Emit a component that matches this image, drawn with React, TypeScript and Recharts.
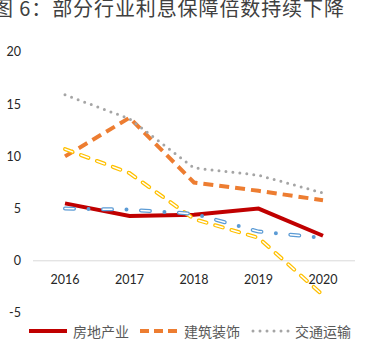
import { LineChart, Line, XAxis, YAxis, ReferenceLine } from "recharts";

const years = ["2016", "2017", "2018", "2019", "2020"];
const realEstate = [5.5, 4.3, 4.4, 5.0, 2.4];
const construction = [10.0, 13.7, 7.5, 6.7, 5.8];
const transport = [15.9, 13.6, 8.9, 8.2, 6.5];
const leisure = [10.7, 8.4, 4.0, 2.2, -3.3];
const commerce = [5.0, 4.9, 4.5, 2.8, 2.2];
const yTicks = [-5, 0, 5, 10, 15, 20];

const seriesNames = ["房地产业", "建筑装饰", "交通运输", "休闲服务", "商业贸易"];

const data = years.map((year, i) => ({
    year,
    realEstate: realEstate[i],
    construction: construction[i],
    transport: transport[i],
    leisure: leisure[i],
    commerce: commerce[i],
}));

const FONT = "Lato, 'Noto Sans', sans-serif";
const CJK = "'Noto Sans CJK SC', sans-serif";

// legend swatches, drawn like the chart strokes
function Swatch({ kind }: { kind: number }) {
    return (
        <svg width={40} height={10} style={{ display: "block" }}>
            {kind === 0 && <line x1={1} y1={5} x2={39} y2={5} stroke="#C00000" strokeWidth={4} />}
            {kind === 1 && (
                <line x1={1} y1={5} x2={39} y2={5} stroke="#ED7D31" strokeWidth={4} strokeDasharray="9 5" />
            )}
            {kind === 2 && (
                <line x1={3} y1={5} x2={39} y2={5} stroke="#A5A5A5" strokeWidth={3} strokeDasharray="0 7" strokeLinecap="round" />
            )}
            {kind === 3 && (
                <g>
                    <line x1={3} y1={5} x2={39} y2={5} stroke="#FFC000" strokeWidth={4} strokeDasharray="8 9" strokeLinecap="round" />
                    <line x1={3} y1={5} x2={39} y2={5} stroke="#fff" strokeWidth={1.5} strokeDasharray="8 9" strokeLinecap="round" />
                </g>
            )}
            {kind === 4 && (
                <g>
                    <line x1={3} y1={5} x2={39} y2={5} stroke="#5B9BD5" strokeWidth={4} strokeDasharray="9 11 0 11" strokeLinecap="round" />
                    <line x1={3} y1={5} x2={39} y2={5} stroke="#fff" strokeWidth={1.5} strokeDasharray="9 22" strokeLinecap="round" />
                </g>
            )}
        </svg>
    );
}

// category labels sit just under the zero line, not at the plot bottom
const XTick = (props: any) => {
    const { x, y, payload } = props;
    return (
        <text x={x} y={y - 37} textAnchor="middle" fontSize={12.5} fill="#262626" fontFamily={FONT}>
            {payload.value}
        </text>
    );
};

export default function App() {
    return (
        <div style={{ position: "absolute", left: 0, top: 0, width: 369, height: 351, overflow: "hidden", background: "#fff" }}>
            <div
                style={{
                    position: "absolute",
                    left: -7,
                    top: -2,
                    fontFamily: CJK,
                    fontSize: 20,
                    lineHeight: "20px",
                    color: "#404040",
                    whiteSpace: "nowrap",
                    letterSpacing: 0.9,
                }}
            >
                图 6：部分行业利息保障倍数持续下降
            </div>
            <div style={{ position: "absolute", left: 0, top: 0 }}>
                <LineChart width={369} height={351} data={data} margin={{ top: 52, right: 14, left: 0, bottom: 18 }}>
                    <XAxis
                        dataKey="year"
                        axisLine={false}
                        tickLine={false}
                        height={20}
                        tick={<XTick />}
                        interval={0}
                        padding={{ left: 32, right: 32 }}
                    />
                    <YAxis
                        domain={[-5, 20]}
                        ticks={yTicks}
                        width={33}
                        axisLine={false}
                        tickLine={false}
                        tickSize={6}
                        tickMargin={6}
                        tick={{ fontSize: 12.5, fill: "#262626", fontFamily: FONT }}
                    />
                    <ReferenceLine y={0} stroke="#D9D9D9" strokeWidth={1} />
                    <Line dataKey="realEstate" stroke="#C00000" strokeWidth={4} dot={false} isAnimationActive={false} />
                    <Line
                        dataKey="construction"
                        stroke="#ED7D31"
                        strokeWidth={4}
                        strokeDasharray="10 6"
                        dot={false}
                        isAnimationActive={false}
                    />
                    <Line
                        dataKey="transport"
                        stroke="#A5A5A5"
                        strokeWidth={3}
                        strokeDasharray="0 7"
                        strokeLinecap="round"
                        dot={false}
                        isAnimationActive={false}
                    />
                    <Line
                        dataKey="leisure"
                        stroke="#FFC000"
                        strokeWidth={4}
                        strokeDasharray="8 9"
                        strokeLinecap="round"
                        dot={false}
                        isAnimationActive={false}
                    />
                    <Line
                        dataKey="leisure"
                        stroke="#FFFFFF"
                        strokeWidth={1.5}
                        strokeDasharray="8 9"
                        strokeLinecap="round"
                        dot={false}
                        legendType="none"
                        isAnimationActive={false}
                    />
                    <Line
                        dataKey="commerce"
                        stroke="#5B9BD5"
                        strokeWidth={4}
                        strokeDasharray="9 14.5 0 14.5"
                        strokeLinecap="round"
                        dot={false}
                        isAnimationActive={false}
                    />
                    <Line
                        dataKey="commerce"
                        stroke="#FFFFFF"
                        strokeWidth={1.5}
                        strokeDasharray="9 29"
                        strokeLinecap="round"
                        dot={false}
                        legendType="none"
                        isAnimationActive={false}
                    />
                </LineChart>
            </div>
            <div style={{ position: "absolute", left: 28, top: 321, width: 333, display: "flex", flexWrap: "wrap", rowGap: 8 }}>
                {seriesNames.map((name, i) => (
                    <div key={name} style={{ width: 111, display: "flex", alignItems: "center", height: 20 }}>
                        <Swatch kind={i} />
                        <span style={{ marginLeft: 5, fontFamily: CJK, fontSize: 14, color: "#595959", whiteSpace: "nowrap" }}>{name}</span>
                    </div>
                ))}
            </div>
        </div>
    );
}
